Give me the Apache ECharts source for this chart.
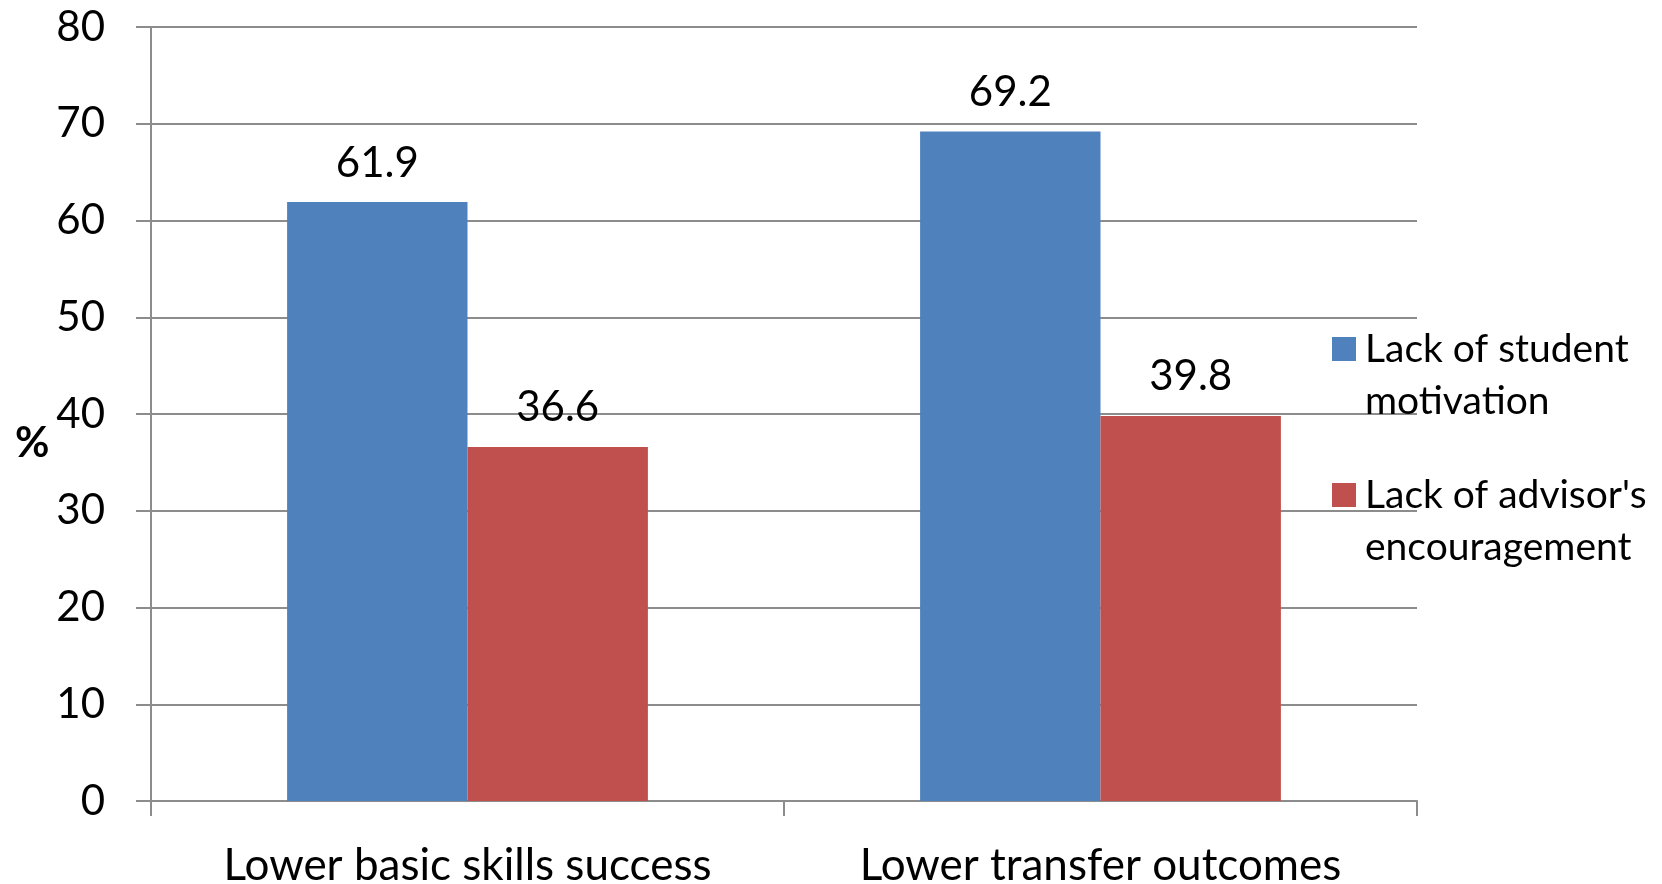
<!DOCTYPE html>
<html>
<head>
<meta charset="utf-8">
<script src="https://cdn.jsdelivr.net/npm/echarts@6/dist/echarts.min.js"></script>
<style>
  html, body { margin: 0; padding: 0; background: #fff; }
  #chart { width: 1662px; height: 884px; }
</style>
</head>
<body>
<div id="chart"></div>
<script>
// Survey results: reasons cited for lower outcomes (%)
const categories = ['Lower basic skills success', 'Lower transfer outcomes'];
const seriesNames = ['Lack of student motivation', "Lack of advisor's encouragement"];
const legendLines = ['Lack of student\nmotivation', "Lack of advisor's\nencouragement"];
const studentMotivation = [61.9, 69.2];
const advisorEncouragement = [36.6, 39.8];
const yTicks = { min: 0, max: 80, interval: 10 };

const FONT = 'Lato';
const GRID_COLOR = '#8c8c8c';
const colors = ['#4F81BD', '#C0504D'];

const chart = echarts.init(document.getElementById('chart'));

// Each legend entry is a two-line label whose first line sits level with the swatch;
// a leading blank line keeps the block centred on the swatch with line one in the middle.
function legendFor(i, top) {
  return {
    data: [seriesNames[i]],
    orient: 'vertical',
    left: 1327,
    top: top,
    itemWidth: 24,
    itemHeight: 24,
    icon: 'rect',
    selectedMode: false,
    formatter: () => '\n' + legendLines[i],
    textStyle: {
      fontFamily: FONT,
      fontSize: 39,
      color: '#000',
      lineHeight: 52,
      padding: [0, 0, 0, 4]
    }
  };
}

const labelStyle = {
  show: true,
  position: 'top',
  distance: 18,
  fontFamily: FONT,
  fontSize: 42,
  color: '#000'
};

chart.setOption({
  animation: false,
  backgroundColor: '#fff',
  grid: {
    left: 151, right: 245, top: 27, bottom: 83,
    containLabel: false,
    outerBoundsMode: 'none'
  },
  legend: [legendFor(0, 266), legendFor(1, 412)],
  xAxis: {
    type: 'category',
    data: categories,
    axisLine: { lineStyle: { color: GRID_COLOR, width: 2 } },
    axisTick: { show: true, length: 15, lineStyle: { color: GRID_COLOR, width: 2 } },
    axisLabel: { interval: 0, fontFamily: FONT, fontSize: 44, color: '#000', margin: 43 }
  },
  yAxis: {
    type: 'value',
    min: yTicks.min,
    max: yTicks.max,
    interval: yTicks.interval,
    axisLine: { show: true, lineStyle: { color: GRID_COLOR, width: 2 } },
    axisTick: { show: true, length: 15, lineStyle: { color: GRID_COLOR, width: 2 } },
    splitLine: { show: true, lineStyle: { color: GRID_COLOR, width: 2 } },
    axisLabel: { fontFamily: FONT, fontSize: 42, color: '#000', margin: 46 }
  },
  graphic: [{
    type: 'text',
    x: 15,
    y: 443,
    style: {
      text: '%', fontFamily: FONT, fontSize: 42, fontWeight: 'bold', fill: '#000',
      verticalAlign: 'middle'
    }
  }],
  series: [
    {
      name: seriesNames[0],
      type: 'bar',
      data: studentMotivation,
      barGap: 0,
      barCategoryGap: '43%',
      itemStyle: { color: colors[0] },
      label: labelStyle
    },
    {
      name: seriesNames[1],
      type: 'bar',
      data: advisorEncouragement,
      barGap: 0,
      barCategoryGap: '43%',
      itemStyle: { color: colors[1] },
      label: labelStyle
    }
  ]
});
</script>
</body>
</html>
